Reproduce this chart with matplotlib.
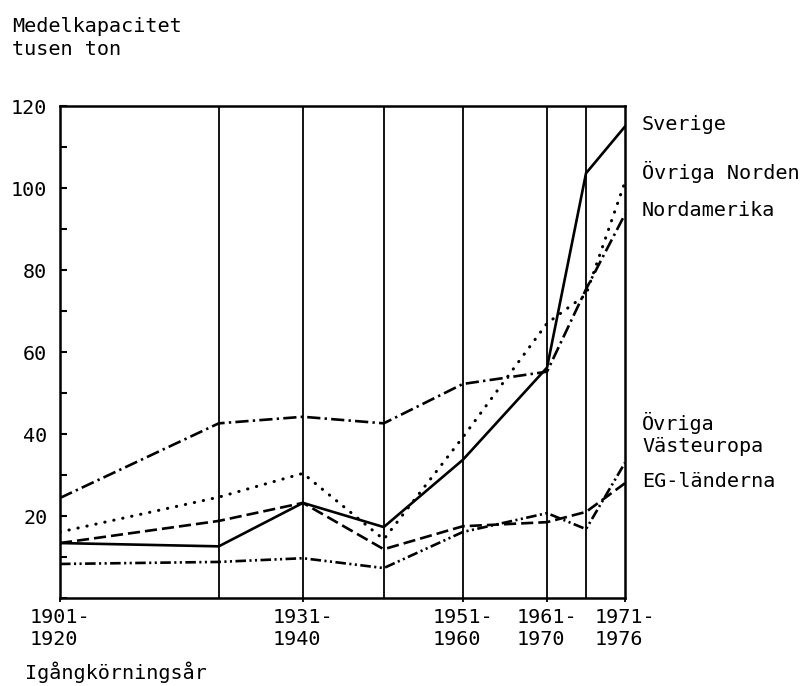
import matplotlib
matplotlib.use("Agg")
import matplotlib.pyplot as plt
from matplotlib.ticker import MultipleLocator

# Period positions along the horizontal axis (relative scale 0-100)
x_pos = [0, 28.1, 43.0, 57.3, 71.3, 86.2, 93.1, 100]
tick_pos = [0, 43.0, 71.3, 86.2, 100]
tick_labels = ["1901-\n1920", "1931-\n1940", "1951-\n1960", "1961-\n1970", "1971-\n1976"]

sverige = [13.4, 12.6, 23.2, 17.3, 33.7, 56.2, 103.6, 115]
ovriga_norden = [16.1, 24.6, 30.4, 14.3, 39.2, 67.0, 74.0, 101.5]
nordamerika = [24.4, 42.6, 44.2, 42.6, 52.2, 55.2, 75.3, 93.6]
ovriga_vasteuropa = [8.3, 8.8, 9.7, 7.3, 16.1, 20.7, 16.8, 33.0]
eg_landerna = [13.4, 18.8, 23.2, 11.9, 17.5, 18.5, 21.0, 28.0]

series_names = ["Sverige", "Övriga Norden", "Nordamerika", "Övriga\nVästeuropa", "EG-länderna"]
label_y = [115.5, 104.0, 94.5, 40.0, 28.5]

FONT = "DejaVu Sans Mono"
FS = 14.5

fig = plt.figure(figsize=(8.09, 6.86), dpi=100)
ax = fig.add_axes([60/809, 1-598/686, (625-60)/809, (598-106)/686])

for xv in x_pos[1:-1]:
    ax.axvline(xv, color="black", lw=1.3, zorder=1)

lw = 1.9
ax.plot(x_pos, sverige, color="black", lw=lw, solid_joinstyle="miter", zorder=3)
ax.plot(x_pos, ovriga_norden, color="black", lw=lw + 0.3, linestyle=(0, (0.1, 2.9)),
        dash_capstyle="round", zorder=3)
ax.plot(x_pos, nordamerika, color="black", lw=lw, linestyle=(0, (5.0, 1.6, 0.9, 1.6)), zorder=3)
ax.plot(x_pos, ovriga_vasteuropa, color="black", lw=lw,
        linestyle=(0, (4.0, 1.3, 0.8, 1.3, 0.8, 1.3)), zorder=3)
ax.plot(x_pos, eg_landerna, color="black", lw=lw, linestyle=(0, (4.6, 1.9)), zorder=3)

ax.set_xlim(0, 100)
ax.set_ylim(0, 120)

for s in ax.spines.values():
    s.set_linewidth(1.8)

ax.set_yticks([20, 40, 60, 80, 100, 120])
ax.yaxis.set_minor_locator(MultipleLocator(10))
ax.tick_params(axis="y", which="both", direction="in", length=5, width=1.5,
               labelsize=FS, pad=9)
for lab in ax.get_yticklabels():
    lab.set_fontfamily(FONT)

ax.set_xticks(tick_pos)
ax.set_xticklabels(tick_labels, fontfamily=FONT, fontsize=FS, linespacing=1.25,
                   multialignment="left")
ax.tick_params(axis="x", direction="out", length=3, width=1.3, pad=4)

for name, yv in zip(series_names, label_y):
    ax.text(1.03, yv, name, transform=ax.get_yaxis_transform(), fontfamily=FONT,
            fontsize=FS, va="center", ha="left", linespacing=1.25, clip_on=False)

fig.text(12/809, 1-38/686, "Medelkapacitet\ntusen ton", fontfamily=FONT, fontsize=FS,
         va="center", ha="left", linespacing=1.25)
fig.text(25/809, 1-672/686, "Igångkörningsår", fontfamily=FONT, fontsize=FS,
         va="center", ha="left")

fig.savefig("out.png", dpi=100)
